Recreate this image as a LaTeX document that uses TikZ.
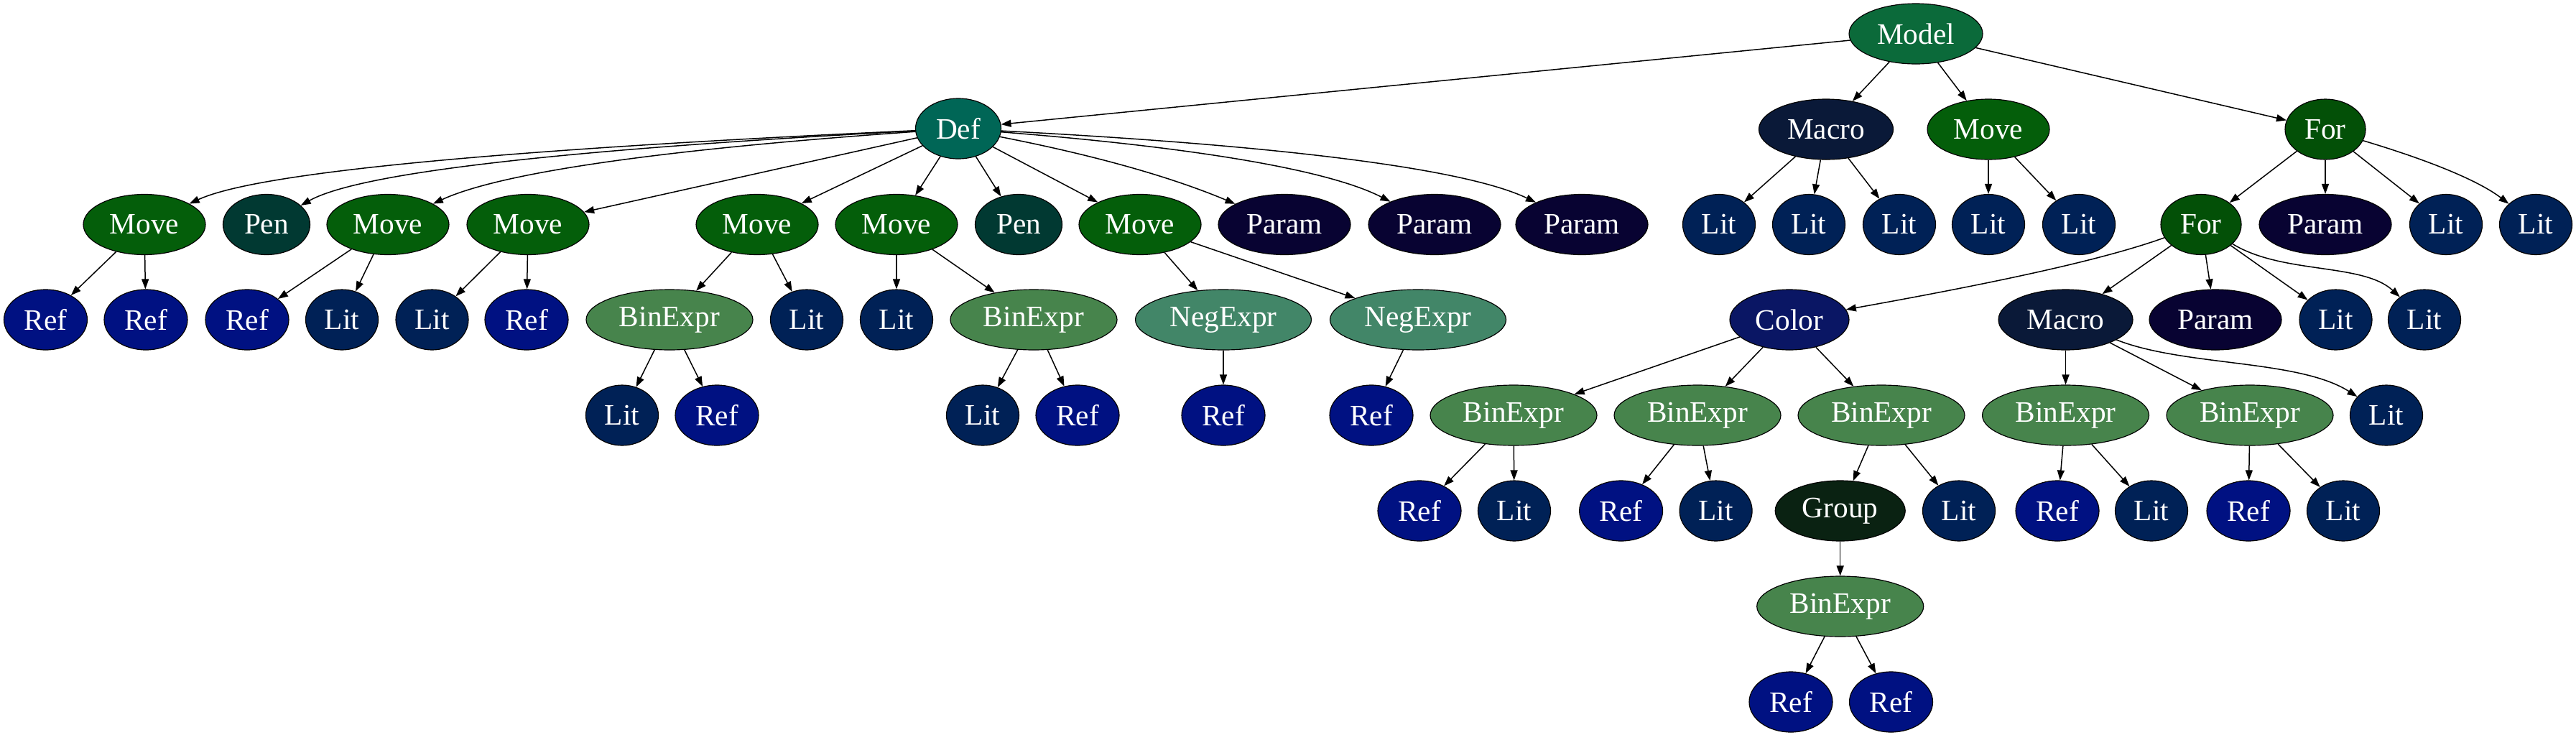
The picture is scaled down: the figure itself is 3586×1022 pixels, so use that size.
\documentclass[tikz,border=0pt]{standalone}
\usepackage{fontspec}
\setmainfont{Liberation Serif}
\usetikzlibrary{shapes.geometric,arrows.meta}
\definecolor{cModel}{RGB}{11,106,58}
\definecolor{cDef}{RGB}{0,102,86}
\definecolor{cMove}{RGB}{4,94,10}
\definecolor{cPen}{RGB}{1,57,50}
\definecolor{cParam}{RGB}{8,3,50}
\definecolor{cMacro}{RGB}{10,25,56}
\definecolor{cFor}{RGB}{3,80,7}
\definecolor{cLit}{RGB}{0,33,86}
\definecolor{cRef}{RGB}{0,17,130}
\definecolor{cBin}{RGB}{71,132,76}
\definecolor{cNeg}{RGB}{66,134,104}
\definecolor{cColor}{RGB}{10,22,100}
\definecolor{cGroup}{RGB}{10,34,18}
\tikzset{
  nd/.style={ellipse, draw=black, line width=0.35pt, minimum height=25.2pt, inner sep=0pt,
    text=white, font=\fontsize{12.4}{14}\selectfont},
  nModel/.style={nd, fill=cModel, minimum width=55.8pt},
  nDef/.style={nd, fill=cDef, minimum width=35.7pt},
  nMove/.style={nd, fill=cMove, minimum width=51pt},
  nPen/.style={nd, fill=cPen, minimum width=36.3pt},
  nParam/.style={nd, fill=cParam, minimum width=55.2pt},
  nMacro/.style={nd, fill=cMacro, minimum width=56.1pt},
  nFor/.style={nd, fill=cFor, minimum width=33.6pt},
  nLit/.style={nd, fill=cLit, minimum width=30.3pt},
  nRef/.style={nd, fill=cRef, minimum width=34.8pt},
  nBin/.style={nd, fill=cBin, minimum width=69.6pt},
  nNeg/.style={nd, fill=cNeg, minimum width=73.5pt},
  nColor/.style={nd, fill=cColor, minimum width=49.8pt},
  nGroup/.style={nd, fill=cGroup, minimum width=54.3pt},
  edge/.style={line width=0.45pt, draw=black, -{Triangle[length=4.2pt,width=3pt]}}
}
\begin{document}
\begin{tikzpicture}[x=0.3pt,y=-0.3pt]
\useasboundingbox (0,0) rectangle (3586,1022);
% level 0
\node[nModel] (model) at (2667,47) {Model};
% level 1
\node[nDef] (def) at (1334,179) {Def};
\node[nMacro] (macA) at (2542,180) {Macro};
\node[nMove] (mvA) at (2768,180) {Move};
\node[nFor] (forA) at (3237,180) {For};
% level 2
\node[nMove] (m1) at (201,312.5) {Move};
\node[nPen] (p1) at (371,312.5) {Pen};
\node[nMove] (m2) at (540,312.5) {Move};
\node[nMove] (m3) at (735,312.5) {Move};
\node[nMove] (m4) at (1054,312.5) {Move};
\node[nMove] (m5) at (1248,312.5) {Move};
\node[nPen] (p2) at (1418,312.5) {Pen};
\node[nMove] (m6) at (1587,312.5) {Move};
\node[nParam] (pa1) at (1788,312.5) {Param};
\node[nParam] (pa2) at (1997,312.5) {Param};
\node[nParam] (pa3) at (2202,312.5) {Param};
\node[nLit] (la1) at (2393,312.5) {Lit};
\node[nLit] (la2) at (2518,312.5) {Lit};
\node[nLit] (la3) at (2644,312.5) {Lit};
\node[nLit] (lb1) at (2768,312.5) {Lit};
\node[nLit] (lb2) at (2894,312.5) {Lit};
\node[nFor] (forB) at (3064,312.5) {For};
\node[nParam] (paB) at (3237,312.5) {Param};
\node[nLit] (lc1) at (3405,312.5) {Lit};
\node[nLit] (lc2) at (3530,312.5) {Lit};
% level 3
\node[nRef] (r1) at (63.5,445) {Ref};
\node[nRef] (r2) at (203,445) {Ref};
\node[nRef] (r3) at (344,445) {Ref};
\node[nLit] (l3a) at (476,445) {Lit};
\node[nLit] (l3b) at (601.5,445) {Lit};
\node[nRef] (r4) at (733,445) {Ref};
\node[nBin] (be1) at (932,445) {BinExpr};
\node[nLit] (l3c) at (1123,445) {Lit};
\node[nLit] (l3d) at (1248,445) {Lit};
\node[nBin] (be2) at (1439,445) {BinExpr};
\node[nNeg] (ne1) at (1703,445) {NegExpr};
\node[nNeg] (ne2) at (1974,445) {NegExpr};
\node[nColor] (col) at (2491,445) {Color};
\node[nMacro] (macB) at (2875.5,445) {Macro};
\node[nParam] (paC) at (3084,445) {Param};
\node[nLit] (l3e) at (3251.5,445) {Lit};
\node[nLit] (l3f) at (3375,445) {Lit};
% level 4
\node[nLit] (l4a) at (866,578) {Lit};
\node[nRef] (r4a) at (998,578) {Ref};
\node[nLit] (l4b) at (1368,578) {Lit};
\node[nRef] (r4b) at (1500,578) {Ref};
\node[nRef] (r4c) at (1703,578) {Ref};
\node[nRef] (r4d) at (1909,578) {Ref};
\node[nBin] (bc1) at (2107,578) {BinExpr};
\node[nBin] (bc2) at (2363,578) {BinExpr};
\node[nBin] (bc3) at (2619,578) {BinExpr};
\node[nBin] (bm1) at (2875.5,578) {BinExpr};
\node[nBin] (bm2) at (3132,578) {BinExpr};
\node[nLit] (l4c) at (3322,578) {Lit};
% level 5
\node[nRef] (r5a) at (1976,711) {Ref};
\node[nLit] (l5a) at (2108,711) {Lit};
\node[nRef] (r5b) at (2256.6,711) {Ref};
\node[nLit] (l5b) at (2388.6,711) {Lit};
\node[nGroup] (grp) at (2561.7,711) {Group};
\node[nLit] (l5c) at (2727,711) {Lit};
\node[nRef] (r5c) at (2864,711) {Ref};
\node[nLit] (l5d) at (2995,711) {Lit};
\node[nRef] (r5d) at (3130,711) {Ref};
\node[nLit] (l5e) at (3262,711) {Lit};
% level 6
\node[nBin] (bg) at (2561.7,844) {BinExpr};
% level 7
\node[nRef] (r7a) at (2493,977) {Ref};
\node[nRef] (r7b) at (2632.5,977) {Ref};

% edges
\draw[edge] (model) -- (def);
\draw[edge] (model) -- (macA);
\draw[edge] (model) -- (mvA);
\draw[edge] (model) -- (forA);

\draw[edge] (def) .. controls (692.8,208.2) and (357.3,240.2) .. (m1);
\draw[edge] (def) .. controls (786.5,207.9) and (501.3,239.8) .. (p1);
\draw[edge] (def) .. controls (920.7,208.1) and (697.5,239.9) .. (m2);
\draw[edge] (def) -- (m3);
\draw[edge] (def) -- (m4);
\draw[edge] (def) -- (m5);
\draw[edge] (def) -- (p2);
\draw[edge] (def) -- (m6);
\draw[edge] (def) .. controls (1518,215) and (1626,244.5) .. (pa1);
\draw[edge] (def) .. controls (1675,206) and (1853,238) .. (pa2);
\draw[edge] (def) .. controls (1796,203) and (2043,236) .. (pa3);

\draw[edge] (macA) -- (la1);
\draw[edge] (macA) -- (la2);
\draw[edge] (macA) -- (la3);
\draw[edge] (mvA) -- (lb1);
\draw[edge] (mvA) -- (lb2);
\draw[edge] (forA) -- (forB);
\draw[edge] (forA) -- (paB);
\draw[edge] (forA) -- (lc1);
\draw[edge] (forA) .. controls (3386.5,224.7) and (3452,252.7) .. (lc2);

\draw[edge] (m1) -- (r1);
\draw[edge] (m1) -- (r2);
\draw[edge] (m2) -- (r3);
\draw[edge] (m2) -- (l3a);
\draw[edge] (m3) -- (l3b);
\draw[edge] (m3) -- (r4);
\draw[edge] (m4) -- (be1);
\draw[edge] (m4) -- (l3c);
\draw[edge] (m5) -- (l3d);
\draw[edge] (m5) -- (be2);
\draw[edge] (m6) -- (ne1);
\draw[edge] (m6) -- (ne2);

\draw[edge] (forB) .. controls (2928,361.4) and (2781,393) .. (col);
\draw[edge] (forB) -- (macB);
\draw[edge] (forB) -- (paC);
\draw[edge] (forB) -- (l3e);
\draw[edge] (forB) .. controls (3177,382) and (3289,365.5) .. (l3f);

\draw[edge] (be1) -- (l4a);
\draw[edge] (be1) -- (r4a);
\draw[edge] (be2) -- (l4b);
\draw[edge] (be2) -- (r4b);
\draw[edge] (ne1) -- (r4c);
\draw[edge] (ne2) -- (r4d);
\draw[edge] (col) -- (bc1);
\draw[edge] (col) -- (bc2);
\draw[edge] (col) -- (bc3);
\draw[edge] (macB) -- (bm1);
\draw[edge] (macB) -- (bm2);
\draw[edge] (macB) .. controls (3040,510) and (3200,500) .. (l4c);

\draw[edge] (bc1) -- (r5a);
\draw[edge] (bc1) -- (l5a);
\draw[edge] (bc2) -- (r5b);
\draw[edge] (bc2) -- (l5b);
\draw[edge] (bc3) -- (grp);
\draw[edge] (bc3) -- (l5c);
\draw[edge] (bm1) -- (r5c);
\draw[edge] (bm1) -- (l5d);
\draw[edge] (bm2) -- (r5d);
\draw[edge] (bm2) -- (l5e);

\draw[edge] (grp) -- (bg);
\draw[edge] (bg) -- (r7a);
\draw[edge] (bg) -- (r7b);
\end{tikzpicture}
\end{document}
